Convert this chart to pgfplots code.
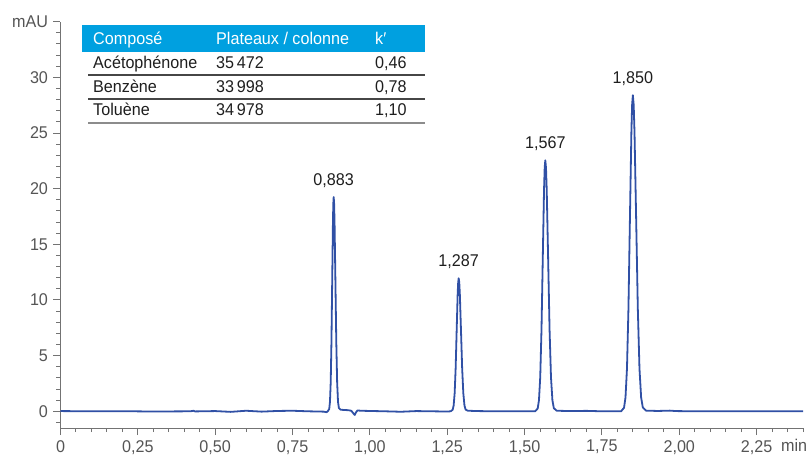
\documentclass[border=0pt]{standalone}
\usepackage{fontspec}
\setmainfont{Liberation Sans}[FakeStretch=0.95]
\usepackage{pgfplots}
\pgfplotsset{compat=1.18}

\definecolor{trace}{RGB}{48,80,165}
\definecolor{axisgray}{RGB}{115,115,115}
\definecolor{labelgray}{RGB}{85,85,85}
\definecolor{headblue}{RGB}{0,160,224}
\definecolor{ink}{RGB}{30,30,30}
\definecolor{rule}{RGB}{70,70,70}
\definecolor{rulelight}{RGB}{140,140,140}

\begin{document}
\begin{tikzpicture}[font=\fontsize{17bp}{20bp}\selectfont]
\begin{axis}[
    scale only axis,
    width=742.5bp, height=406.3bp,
    xmin=0, xmax=2.4,
    ymin=-1.5, ymax=35,
    axis lines*=left,
    axis line style={axisgray, line width=1bp},
    tick style={axisgray, line width=1bp},
    tick align=outside,
    major tick length=7bp,
    minor tick length=4bp,
    xtick={0,0.25,0.5,0.75,1,1.25,1.5,1.75,2,2.25},
    xticklabels={0,{0,25},{0,50},{0,75},{1,00},{1,25},{1,50},{1,75},{2,00},{2,25}},
    minor xtick={0,0.05,...,2.401},
    ytick={0,5,10,15,20,25,30,35},
    yticklabels={0,5,10,15,20,25,30,mAU},
    minor ytick={-1,0,...,35},
    tick label style={labelgray},
    xticklabel style={yshift=-3bp, inner ysep=2bp},
    yticklabel style={xshift=-2bp},
    /pgf/number format/assume math mode=true,
    clip=false,
]

% chromatogramme
\addplot[trace, line width=1.8bp, line join=round] coordinates {
(0,0.02) (0.1,0.0) (0.2,0.01) (0.3,-0.02) (0.42,0.0) (0.43,0.05) (0.435,-0.01)
(0.5,0.02) (0.55,-0.05) (0.6,0.05) (0.65,-0.03) (0.7,0.03) (0.75,0.05)
(0.8,0.0) (0.85,-0.03) (0.86,-0.08)
(0.8638,0.0) (0.8686,0.21) (0.871,0.85) (0.8734,2.60) (0.8758,6.25)
(0.8782,11.68) (0.8806,16.99) (0.8818,18.66) (0.883,19.25) (0.8844,18.66)
(0.8858,16.99) (0.8886,11.68) (0.8914,6.25) (0.8942,2.60) (0.897,0.85)
(0.8998,0.30) (0.9054,0.15) (0.915,0.12) (0.93,0.10) (0.94,0.05)
(0.947,-0.20) (0.951,-0.33) (0.955,-0.10) (0.96,0.08) (0.97,0.05)
(1.0,0.03) (1.05,0.0) (1.1,-0.04) (1.15,0.02) (1.2,0.0) (1.25,-0.02)
(1.261,0.0) (1.2675,0.13) (1.27075,0.52) (1.274,1.62) (1.27725,3.88)
(1.2805,7.25) (1.28375,10.55) (1.2854,11.58) (1.287,11.95) (1.2889,11.58)
(1.29075,10.55) (1.2945,7.25) (1.29825,3.88) (1.302,1.62) (1.30575,0.52)
(1.3095,0.15) (1.317,0.05)
(1.35,0.02) (1.4,0.0) (1.45,0.01) (1.5,0.0)
(1.5342,0.0) (1.5424,0.25) (1.5465,0.99) (1.5506,3.05) (1.5547,7.32)
(1.5588,13.68) (1.5629,19.90) (1.5650,21.86) (1.567,22.55) (1.5693,21.86)
(1.5716,19.90) (1.5762,13.68) (1.5808,7.32) (1.5854,3.05) (1.59,0.99)
(1.5946,0.28) (1.6038,0.05)
(1.65,0.02) (1.7,0.04) (1.75,0.0) (1.8,0.0)
(1.812,0.0) (1.8215,0.32) (1.82625,1.25) (1.831,3.84) (1.83575,9.22)
(1.8405,17.22) (1.84525,25.06) (1.8476,27.53) (1.85,28.4) (1.8527,27.53)
(1.85535,25.06) (1.8607,17.22) (1.86605,9.22) (1.8714,3.84) (1.87675,1.25)
(1.8821,0.35) (1.8928,0.06)
(1.93,0.03) (1.97,0.06) (1.99,0.02) (2.05,0.0) (2.2,0.0) (2.4,0.0)
};

% temps de retention
\node[ink, anchor=south, inner sep=0pt, yshift=9bp] at (axis cs:0.883,19.25) {0,883};
\node[ink, anchor=south, inner sep=0pt, yshift=9bp] at (axis cs:1.287,11.95) {1,287};
\node[ink, anchor=south, inner sep=0pt, yshift=9bp] at (axis cs:1.567,22.55) {1,567};
\node[ink, anchor=south, inner sep=0pt, yshift=9bp] at (axis cs:1.850,28.4) {1,850};

\coordinate (bl) at (rel axis cs:0,0);
\end{axis}

% tableau et unite, en pixels depuis le coin haut gauche
\begin{scope}[shift={(bl)}, xshift=-60.5bp, yshift=428bp, x=1bp, y=-1bp]
  \node[labelgray, anchor=base west, inner sep=0pt] at (781,452) {min};

  \fill[headblue] (82,25) rectangle (425,52);
  \node[white, anchor=base west, inner sep=0pt] at (93,45) {Composé};
  \node[white, anchor=base west, inner sep=0pt] at (216,45) {Plateaux / colonne};
  \node[white, anchor=base west, inner sep=0pt] at (375,45) {k′};

  \node[ink, anchor=base west, inner sep=0pt] at (93,68.3) {Acétophénone};
  \node[ink, anchor=base west, inner sep=0pt] at (216,68.3) {35\,472};
  \node[ink, anchor=base west, inner sep=0pt] at (375,68.3) {0,46};
  \draw[rule, line width=1.2bp] (88,75) -- (425,75);

  \node[ink, anchor=base west, inner sep=0pt] at (93,92.3) {Benzène};
  \node[ink, anchor=base west, inner sep=0pt] at (216,92.3) {33\,998};
  \node[ink, anchor=base west, inner sep=0pt] at (375,92.3) {0,78};
  \draw[rule, line width=1.2bp] (88,99) -- (425,99);

  \node[ink, anchor=base west, inner sep=0pt] at (93,116) {Toluène};
  \node[ink, anchor=base west, inner sep=0pt] at (216,116) {34\,978};
  \node[ink, anchor=base west, inner sep=0pt] at (375,116) {1,10};
  \draw[rulelight, line width=2bp] (88,123) -- (425,123);

  \pgfresetboundingbox
  \path[use as bounding box] (0,0) rectangle (808,457);
\end{scope}
\end{tikzpicture}
\end{document}
